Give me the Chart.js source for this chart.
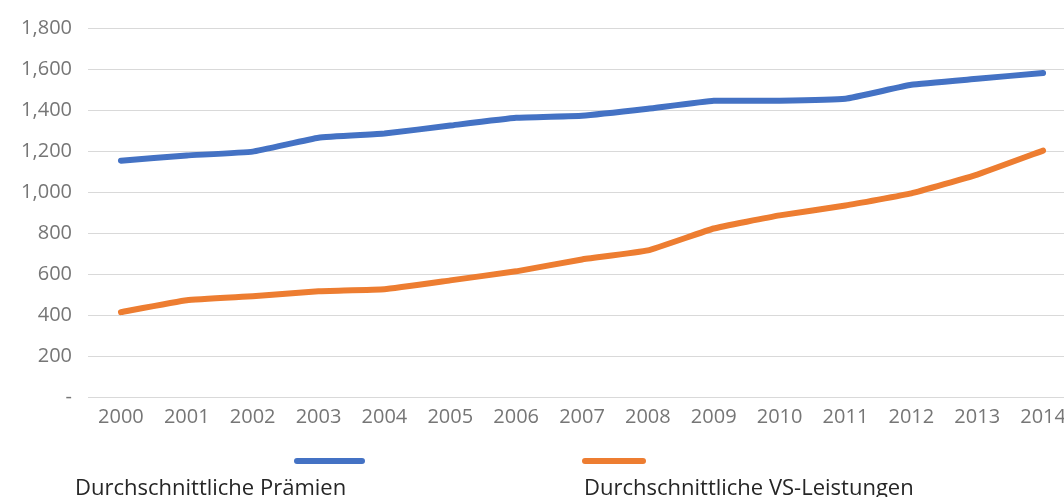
<!DOCTYPE html>
<html>
<head>
<meta charset="utf-8">
<script src="https://cdn.jsdelivr.net/npm/chart.js@4/dist/chart.umd.min.js"></script>
<style>
	html, body { margin: 0; padding: 0; background: #fff; overflow: hidden; }
	#wrap { width: 1080px; height: 497px; }
</style>
</head>
<body>
<div id="wrap"><canvas id="chart" width="1080" height="497"></canvas></div>
<script>
const years = ['2000', '2001', '2002', '2003', '2004', '2005', '2006', '2007', '2008', '2009', '2010', '2011', '2012', '2013', '2014'];
const praemien = [1153, 1178, 1197, 1265, 1285, 1324, 1362, 1372, 1406, 1445, 1445, 1455, 1523, 1552, 1581];
const leistungen = [414, 472, 491, 516, 526, 569, 613, 671, 715, 822, 886, 934, 993, 1085, 1202];

const BLUE = '#4472C4';
const ORANGE = '#ED7D31';
const TICK_FONT = { family: 'Open Sans', size: 20 };

// legend in Excel style: short line over each label
const legendSlots = [
	{ lineFrom: 297, lineTo: 362, textX: 75 },
	{ lineFrom: 585, lineTo: 643, textX: 584 },
];

const bottomLegend = {
	id: 'bottomLegend',
	afterDraw(chart) {
		const { ctx } = chart;
		ctx.save();
		chart.data.datasets.forEach((ds, i) => {
			const slot = legendSlots[i];
			ctx.strokeStyle = ds.borderColor;
			ctx.lineWidth = 6;
			ctx.lineCap = 'round';
			ctx.beginPath();
			ctx.moveTo(slot.lineFrom, 461);
			ctx.lineTo(slot.lineTo, 461);
			ctx.stroke();
			ctx.fillStyle = '#262626';
			ctx.font = '22px "Open Sans"';
			ctx.textBaseline = 'alphabetic';
			ctx.textAlign = 'left';
			ctx.fillText(ds.label, slot.textX, 495);
		});
		ctx.restore();
	},
};

// eslint-disable-next-line no-new
new Chart(document.getElementById('chart').getContext('2d'), {
	type: 'line',
	data: {
		labels: years,
		datasets: [
			{
				label: 'Durchschnittliche Prämien',
				data: praemien,
				borderColor: BLUE,
				backgroundColor: BLUE,
				borderWidth: 6,
				pointRadius: 0,
				borderCapStyle: 'round',
				borderJoinStyle: 'round',
				tension: 0.1,
			},
			{
				label: 'Durchschnittliche VS-Leistungen',
				data: leistungen,
				borderColor: ORANGE,
				backgroundColor: ORANGE,
				borderWidth: 6,
				pointRadius: 0,
				borderCapStyle: 'round',
				borderJoinStyle: 'round',
				tension: 0.1,
			},
		],
	},
	options: {
		responsive: false,
		animation: false,
		layout: { padding: { top: 28, right: 4, left: 0, bottom: 0 } },
		plugins: {
			legend: { display: false },
			tooltip: { enabled: false },
		},
		scales: {
			x: {
				offset: true,
				grid: { display: false, drawTicks: false },
				border: { display: false },
				ticks: { color: '#767676', font: TICK_FONT, padding: 8, maxRotation: 0, autoSkip: false },
				afterFit: (scale) => { scale.height = 100; },
			},
			y: {
				min: 0,
				max: 1800,
				grid: { color: '#d9d9d9', lineWidth: 1, drawTicks: false },
				border: { display: false },
				ticks: {
					stepSize: 200,
					color: '#767676',
					font: TICK_FONT,
					padding: 16,
					callback: (v) => (v === 0 ? '-' : v.toLocaleString('en-US')),
				},
				afterFit: (scale) => { scale.width = 88; },
			},
		},
	},
	plugins: [bottomLegend],
});
</script>
</body>
</html>
